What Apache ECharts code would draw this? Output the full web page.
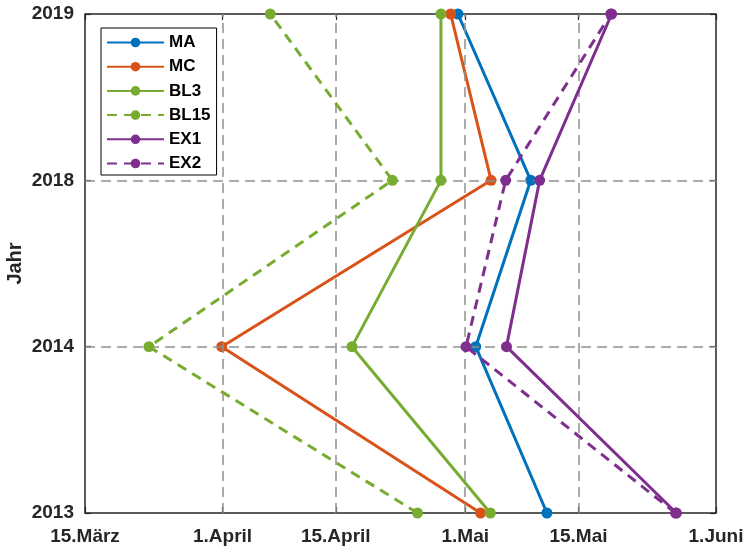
<!DOCTYPE html>
<html>
<head>
<meta charset="utf-8">
<script src="https://cdn.jsdelivr.net/npm/echarts@6/dist/echarts.min.js"></script>
<style>
html,body{margin:0;padding:0;background:#fff;}
#chart{width:746px;height:547px;}
</style>
</head>
<body>
<div id="chart"></div>
<script>
// Years (category axis, bottom to top)
var years = ['2013', '2014', '2018', '2019'];
// X axis: day of year, ticks and labels
var tickDays = [74, 91, 105, 121, 135, 152];
var tickLabels = ['15.März', '1.April', '15.April', '1.Mai', '15.Mai', '1.Juni'];
var gridDays = [91, 105, 121, 135];
var gridYears = ['2014', '2018'];
// Series values (day of year), in order of years
var seriesNames = ['MA', 'MC', 'BL3', 'BL15', 'EX1', 'EX2'];
var MA   = [131.1, 122.3, 129.1, 120.1];
var MC   = [122.9, 90.9, 124.2, 119.2];
var BL3  = [124.1, 107.0, 118.0, 118.0];
var BL15 = [115.1, 81.9, 112.0, 96.9];
var EX1  = [147.1, 126.1, 130.2, 139.1];
var EX2  = [147.0, 121.1, 126.0, 139.0];

var values = [MA, MC, BL3, BL15, EX1, EX2];
var colors = ['#0072BD', '#D95319', '#77AC30', '#77AC30', '#7E2F8E', '#7E2F8E'];
var dashed = [false, false, false, true, false, true];

var chart = echarts.init(document.getElementById('chart'), null, {renderer: 'canvas'});
var font = 'Liberation Sans, Arial, Helvetica, sans-serif';
var textColor = '#262626';

var series = [{
  type: 'line',
  name: '_grid',
  data: [],
  z: 1,
  silent: true,
  markLine: {
    silent: true,
    symbol: ['none', 'none'],
    label: {show: false},
    lineStyle: {color: '#909090', width: 1.5, type: [10, 6]},
    animation: false,
    data: gridDays.map(function (d) { return {xAxis: d}; })
      .concat(gridYears.map(function (y) { return {yAxis: y}; }))
  }
}];
seriesNames.forEach(function (n, i) {
  series.push({
    type: 'line',
    name: n,
    data: values[i],
    z: 3 + i,
    symbol: 'circle',
    symbolSize: 11,
    color: colors[i],
    lineStyle: {width: 3, color: colors[i], type: dashed[i] ? [10, 7] : 'solid'},
    itemStyle: {color: colors[i]},
    animation: false
  });
});

var tickLabelMap = {};
tickDays.forEach(function (d, i) { tickLabelMap[d] = tickLabels[i]; });

var tickStyle = {color: textColor, width: 1.2};

chart.setOption({
  animation: false,
  backgroundColor: '#fff',
  grid: {left: 85, right: 30, top: 14, bottom: 34, outerBoundsMode: 'none', containLabel: false,
         show: true, borderColor: textColor, borderWidth: 1.5, backgroundColor: 'transparent'},
  legend: {
    data: seriesNames,
    orient: 'vertical',
    left: 101,
    top: 28,
    itemWidth: 57,
    itemHeight: 12,
    itemGap: 7.2,
    padding: [6, 6, 3, 5],
    backgroundColor: '#fff',
    borderColor: '#000',
    borderWidth: 1,
    textStyle: {fontFamily: font, fontWeight: 'bold', fontSize: 17, color: '#000'}
  },
  xAxis: [{
    type: 'value',
    min: 74,
    max: 152,
    position: 'bottom',
    axisLine: {show: false},
    splitLine: {show: false},
    axisTick: {show: true, inside: true, length: 6, customValues: tickDays, lineStyle: tickStyle},
    axisLabel: {
      show: true, customValues: tickDays, margin: 14,
      fontFamily: font, fontWeight: 'bold', fontSize: 19, color: textColor,
      formatter: function (v) { return tickLabelMap[v] || ''; }
    }
  }, {
    type: 'value',
    min: 74,
    max: 152,
    position: 'top',
    axisLine: {show: false},
    splitLine: {show: false},
    axisTick: {show: true, inside: true, length: 6, customValues: tickDays, lineStyle: tickStyle},
    axisLabel: {show: false}
  }],
  yAxis: [{
    type: 'category',
    data: years,
    boundaryGap: false,
    position: 'left',
    name: 'Jahr',
    nameLocation: 'middle',
    nameRotate: 90,
    nameGap: 60,
    nameMoveOverlap: false,
    nameTextStyle: {fontFamily: font, fontWeight: 'bold', fontSize: 20, color: textColor},
    axisLine: {show: false},
    splitLine: {show: false},
    axisTick: {show: true, inside: true, length: 6, alignWithLabel: true, lineStyle: tickStyle},
    axisLabel: {margin: 11, fontFamily: font, fontWeight: 'bold', fontSize: 19, color: textColor}
  }, {
    type: 'category',
    data: years,
    boundaryGap: false,
    position: 'right',
    axisLine: {show: false},
    splitLine: {show: false},
    axisTick: {show: true, inside: true, length: 6, alignWithLabel: true, lineStyle: tickStyle},
    axisLabel: {show: false}
  }],
  series: series
});
</script>
</body>
</html>
